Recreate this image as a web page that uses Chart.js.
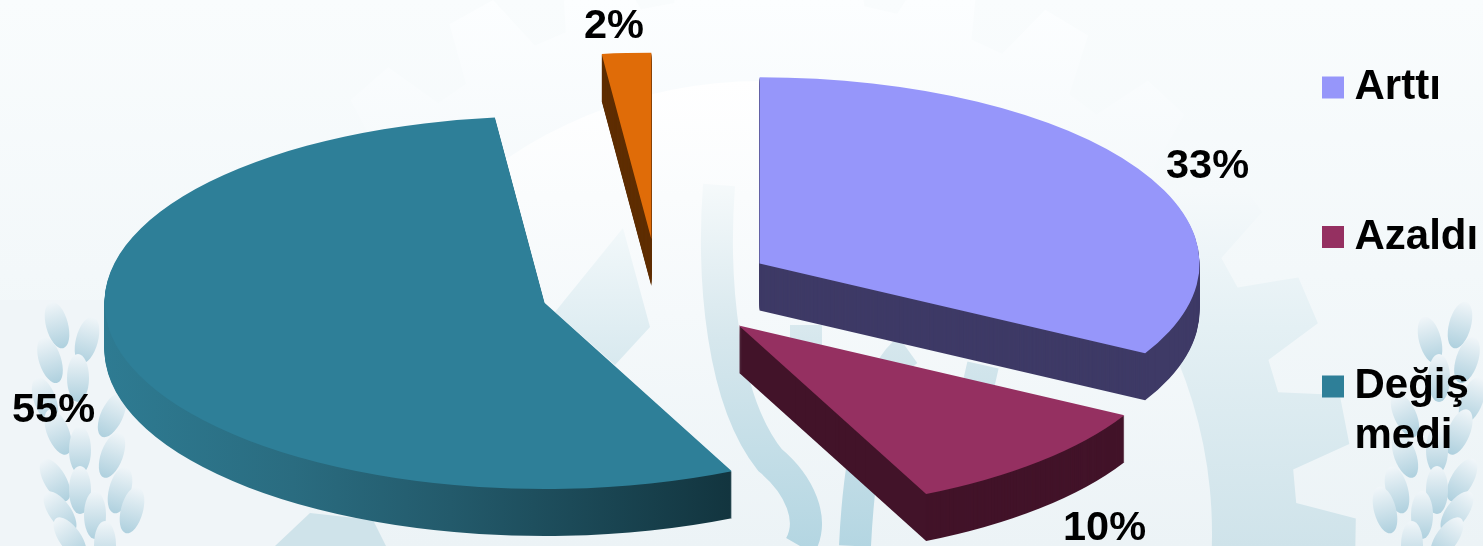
<!DOCTYPE html>
<html><head><meta charset="utf-8">
<script src="https://cdn.jsdelivr.net/npm/chart.js@4"></script>
<style>
html,body{margin:0;padding:0;width:1483px;height:546px;overflow:hidden;background:#f4f8fa}
#bg{position:absolute;left:0;top:0}
#wrap{position:absolute;left:0;top:0;width:1483px;height:546px}
</style></head><body>
<svg id="bg" width="1483" height="546" xmlns="http://www.w3.org/2000/svg">
<defs>
<linearGradient id="page" x1="0" y1="0" x2="0" y2="1"><stop offset="0" stop-color="#f9fcfd"/><stop offset=".5" stop-color="#f3f8fa"/><stop offset="1" stop-color="#ecf3f6"/></linearGradient>
<linearGradient id="gearFill" gradientUnits="userSpaceOnUse" x1="0" y1="0" x2="0" y2="546"><stop offset="0" stop-color="#fcfeff"/><stop offset=".35" stop-color="#f5f9fb"/><stop offset=".6" stop-color="#e4f0f4"/><stop offset="1" stop-color="#cfe3ea"/></linearGradient>
<linearGradient id="innerFill" gradientUnits="userSpaceOnUse" x1="0" y1="80" x2="0" y2="546"><stop offset="0" stop-color="#ffffff"/><stop offset=".5" stop-color="#f5f9fb"/><stop offset="1" stop-color="#ecf3f6"/></linearGradient>
<linearGradient id="band" gradientUnits="userSpaceOnUse" x1="0" y1="170" x2="0" y2="546"><stop offset="0" stop-color="#f8fbfc"/><stop offset=".45" stop-color="#d6e7ed"/><stop offset="1" stop-color="#b4d6e2"/></linearGradient>
<linearGradient id="tooth" x1="0" y1="0" x2="0" y2="1"><stop offset="0" stop-color="#f2f8fa"/><stop offset="1" stop-color="#d8e9ef"/></linearGradient>
<linearGradient id="leaf" x1="0" y1="0" x2="0" y2="1"><stop offset="0" stop-color="#f1f6f9"/><stop offset="1" stop-color="#aed0de"/></linearGradient>
</defs>
<rect width="1483" height="546" fill="url(#page)"/>
<path id="gear" fill="url(#gearFill)"/>
<rect x="0" y="300" width="340" height="246" fill="#f0f5f8"/>
<circle cx="760" cy="533" r="452" fill="url(#innerFill)"/>
<path d="M310 513L373 520L386 546L275 546Z" fill="#cfe3ea"/>
<path d="M623 228L650 327L615 365L555 312Z" fill="url(#tooth)"/>
<g fill="none" stroke="url(#band)" stroke-width="32">
<path d="M719 185C712 280 722 400 770 460C800 485 815 520 800 546"/>
<path d="M806 325L806 400"/>
<path d="M908 350C880 370 860 440 855 546"/>
<path d="M983 365L975 400"/>
</g>
<g id="wheat" fill="url(#leaf)"></g>
</svg>
<div id="wrap"><canvas id="c" width="1483" height="546"></canvas></div>
<script>
// ---- decorative backdrop (gear teeth and wheat leaves) ----
(function(){
  const cx=760, cy=533, rTip=596, rRoot=537, n=30; let d='';
  for(let i=0;i<n;i++){
    const a=(i*360/n-11)*Math.PI/180, w=2.4*Math.PI/180, b=4.2*Math.PI/180;
    [[rRoot,-b],[rTip,-w],[rTip,w],[rRoot,b]].forEach((p,j)=>{
      d+=(i===0&&j===0?'M':'L')+(cx+p[0]*Math.cos(a+p[1])).toFixed(1)+' '+(cy+p[0]*Math.sin(a+p[1])).toFixed(1);
    });
  }
  document.getElementById('gear').setAttribute('d',d+'Z');
  const ns='http://www.w3.org/2000/svg', g=document.getElementById('wheat');
  function leaf(x,y,rot){
    const e=document.createElementNS(ns,'ellipse');
    e.setAttribute('cx',x);e.setAttribute('cy',y);e.setAttribute('rx',11);e.setAttribute('ry',24);
    e.setAttribute('transform','rotate('+rot+' '+x+' '+y+')');g.appendChild(e);
  }
  [[57,325,-15],[87,340,15],[50,360,-18],[78,378,0],[45,400,-20],[112,415,25],[58,432,-22],[80,450,0],[112,455,20],[55,480,-30],[80,490,0],[120,490,15],[60,512,-35],[95,515,0],[132,510,15],[70,538,-35],[105,545,0]]
    .forEach(p=>{leaf(p[0],p[1],p[2]);leaf(1517-p[0],p[1],-p[2]);});
})();

// ---- data ----
const legendLines=[['Arttı'],['Azaldı'],['Değiş','medi']];
const sliceLabels=['33%','10%','55%','2%'];
const sliceValues=[33,10,55.2,1.8];
const sliceNames=['Arttı','Azaldı','Değişmedi',''];
const topColors=['#9696fa','#953061','#2e7f98','#e06c08'];
const wallColors=['#3e3a66','#421329',null,'#5f2e03'];

// ---- look ----
const SQUASH=0.4235, DEPTH=47, RADIUS=440, EXPLODE=118;
const labelFont='bold 41.5px "Liberation Sans", Arial, sans-serif';
const labelSpots=[[1166,178],[1063,540],[12,422],[584,38]];

function squash(ctx,area,dy){
  const cy=(area.top+area.bottom)/2;
  ctx.translate(0,cy+dy);ctx.scale(1,SQUASH);ctx.translate(0,-cy);
}
const pie3d={
  id:'pie3d',
  afterLayout(chart){
    const lg=chart.legend, pad=lg.options.labels.padding;
    lg.left=1332.5-pad; lg.top=66.5-pad; lg.right=1483; lg.bottom=546; lg.width=lg.right-lg.left; lg.height=lg.bottom-lg.top;
  },
  afterDatasetsUpdate(chart){
    // keep every slice at the same radius: the arc element grows small slices unless its angle reads as a quarter turn
    chart.getDatasetMeta(0).data.forEach(a=>{a.circumference=Math.PI/2;});
  },
  beforeDatasetsDraw(chart){
    const ctx=chart.ctx, arcs=chart.getDatasetMeta(0).data, area=chart.chartArea;
    [3,2,0,1].forEach(i=>{
      const arc=arcs[i];
      let fill=wallColors[i];
      if(!fill){
        const half=(arc.startAngle+arc.endAngle)/2;
        const shift=Math.cos(half)*EXPLODE;
        const g=ctx.createLinearGradient(103-shift,0,735-shift,0);
        g.addColorStop(0,'#2e7b92');g.addColorStop(.3,'#2a6c80');g.addColorStop(.55,'#235a6b');g.addColorStop(1,'#12343e');
        fill=g;
      }
      const ghost=Object.create(arc);
      ghost.options=Object.assign({},arc.options,{backgroundColor:fill});
      for(let dy=DEPTH;dy>=1;dy--){
        ctx.save();squash(ctx,area,dy);arc.draw.call(ghost,ctx);ctx.restore();
      }
    });
    ctx.save();squash(ctx,area,0);
  },
  afterDatasetsDraw(chart){
    const ctx=chart.ctx;ctx.restore();
    ctx.save();ctx.font=labelFont;ctx.fillStyle='#000';ctx.textAlign='left';ctx.textBaseline='alphabetic';
    sliceLabels.forEach((t,i)=>ctx.fillText(t,labelSpots[i][0],labelSpots[i][1]));
    ctx.restore();
  }
};
new Chart(document.getElementById('c'),{
  type:'pie',
  data:{labels:sliceNames,datasets:[{
    data:sliceValues,backgroundColor:topColors,borderWidth:0,
    offset:EXPLODE*4,hoverOffset:0,radius:RADIUS,clip:false
  }]},
  options:{
    responsive:false,animation:false,events:[],
    layout:{padding:{left:0,right:167,top:32,bottom:0}},
    plugins:{
      tooltip:{enabled:false},
      legend:{
        display:true,position:'chartArea',align:'start',
        labels:{
          color:'#000',boxWidth:1,boxHeight:1,padding:99.5,
          font:{family:'"Liberation Sans", Arial, sans-serif',weight:'bold',size:42,lineHeight:50/42},
          generateLabels(){
            return legendLines.map((text,i)=>({text,fillStyle:topColors[i],strokeStyle:topColors[i],lineWidth:21,datasetIndex:0,index:i}));
          }
        }
      }
    }
  },
  plugins:[pie3d]
});
</script>
</body></html>
